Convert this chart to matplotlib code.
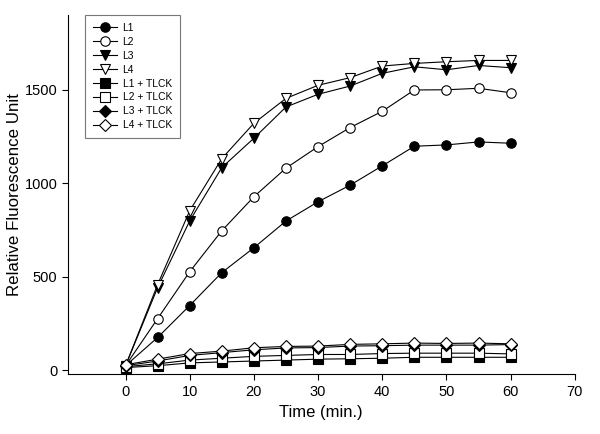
import matplotlib
matplotlib.use("Agg")
import matplotlib.pyplot as plt

plt.rcParams['font.family'] = ['Liberation Sans', 'DejaVu Sans']

time = [0, 5, 10, 15, 20, 25, 30, 35, 40, 45, 50, 55, 60]
L1 = [25, 176, 347, 523, 656, 799, 902, 991, 1094, 1199, 1206, 1222, 1215]
L2 = [25, 277, 528, 747, 929, 1082, 1197, 1299, 1386, 1500, 1501, 1509, 1485]
L3 = [25, 443, 800, 1085, 1242, 1409, 1477, 1521, 1589, 1624, 1608, 1631, 1619]
L4 = [25, 459, 854, 1133, 1322, 1455, 1525, 1566, 1628, 1642, 1651, 1658, 1658]
L1_TLCK = [15, 25, 40, 45, 50, 55, 60, 62, 65, 70, 70, 70, 70]
L2_TLCK = [20, 35, 55, 65, 75, 80, 85, 85, 90, 92, 92, 92, 88]
L3_TLCK = [25, 50, 80, 95, 110, 120, 122, 130, 132, 135, 135, 135, 138]
L4_TLCK = [30, 60, 90, 103, 121, 128, 130, 139, 142, 146, 144, 146, 142]

series = [
    ("L1", L1, 'o', 'black'),
    ("L2", L2, 'o', 'white'),
    ("L3", L3, 'v', 'black'),
    ("L4", L4, 'v', 'white'),
    ("L1 + TLCK", L1_TLCK, 's', 'black'),
    ("L2 + TLCK", L2_TLCK, 's', 'white'),
    ("L3 + TLCK", L3_TLCK, 'D', 'black'),
    ("L4 + TLCK", L4_TLCK, 'D', 'white'),
]

fig = plt.figure(figsize=(6.0, 4.34), dpi=100)
ax = fig.add_axes([0.113, 0.138, 0.845, 0.827])

for name, vals, m, fc in series:
    ms = 6.8 if m != 'D' else 6.2
    ax.plot(time, vals, color='black', linewidth=0.8, marker=m, markersize=ms,
            markerfacecolor=fc, markeredgecolor='black', markeredgewidth=0.8,
            label=name)

ax.set_xlim(-9, 70)
ax.set_ylim(-20, 1900)
ax.set_xticks([0, 10, 20, 30, 40, 50, 60, 70])
ax.set_yticks([0, 500, 1000, 1500])
ax.spines['top'].set_visible(False)
ax.spines['right'].set_visible(False)
for s in ('left', 'bottom'):
    ax.spines[s].set_linewidth(0.8)
ax.tick_params(direction='out', length=4, width=0.8, labelsize=10.5)
ax.set_xlabel("Time (min.)", fontsize=12, labelpad=5)
ax.set_ylabel("Relative Fluorescence Unit", fontsize=12.2, labelpad=2)

leg = ax.legend(loc='upper left', bbox_to_anchor=(0.034, 1.0), fontsize=7.4,
                frameon=True, fancybox=False, handlelength=2.4,
                borderpad=0.75, labelspacing=0.38, handletextpad=0.5,
                borderaxespad=0.0)
leg.get_frame().set_edgecolor('#555555')
leg.get_frame().set_linewidth(0.8)

fig.savefig("out.png", dpi=100)
